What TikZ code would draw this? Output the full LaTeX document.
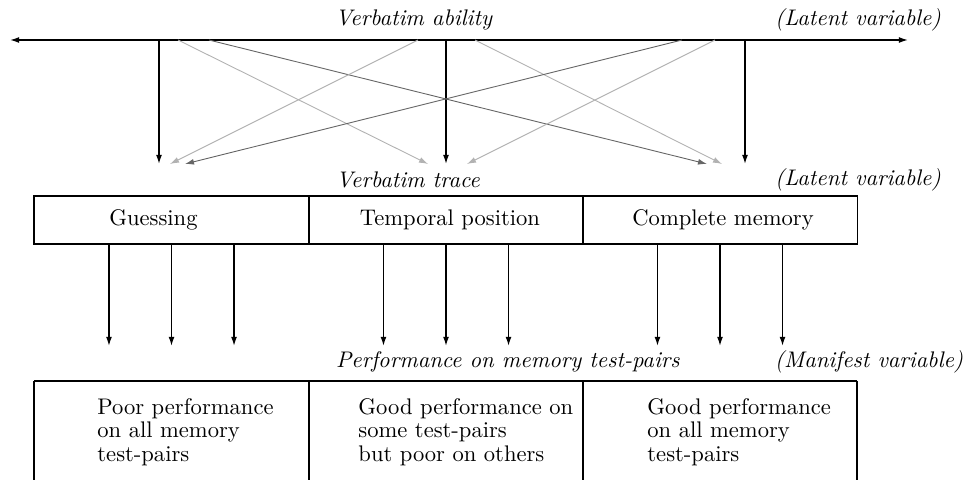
\documentclass[tikz,border=0pt]{standalone}
\usetikzlibrary{arrows.meta}
\tikzset{
	tip/.style={-{Latex[length=4pt,width=2.6pt]}},
	blackarrow/.style={tip, black, semithick},
	lightarrow/.style={tip, black!30, thin},
	darkarrow/.style={tip, black!60, thin},
	cell/.style={draw, thick, minimum width=121.8pt, minimum height=21.3pt, inner sep=0pt},
	outcome/.style={anchor=north west, align=left, inner sep=0pt}
}
\begin{document}
\begin{tikzpicture}[x=0.443pt, y=-0.443pt]
			\useasboundingbox (0,0) rectangle (970,480);
			
			% latent variable: verbatim ability
			\coordinate (abL) at (10,40);
			\coordinate (abR) at (908,40);
			\draw [<->, >={Latex[length=4pt,width=2.6pt]}, semithick] (abL) -- (abR);
			\node (ability) at (414,20) {\textit{Verbatim ability}};
			\node (latentA) at (858,20) {\textit{(Latent variable)}};
			
			\foreach \name/\x in {a1/159, a2/446, a3/745, g1/178, d1/209, g2/418, g3/475, d2/682, g4/715}
				\coordinate (\name) at (\x,40);
			\foreach \name/\x in {t1/159, t2/446, t3/745, l1/170, k1/185, l2/428, l3/467, k3/707, l4/722}
				\coordinate (\name) at (\x,164);
			
			\draw [blackarrow] (a1) -- (t1);
			\draw [blackarrow] (a2) -- (t2);
			\draw [blackarrow] (a3) -- (t3);
			\draw [lightarrow] (g1) -- (l2);
			\draw [darkarrow] (d1) -- (k3);
			\draw [lightarrow] (g2) -- (l1);
			\draw [lightarrow] (g3) -- (l4);
			\draw [darkarrow] (d2) -- (k1);
			\draw [lightarrow] (g4) -- (l3);
			
			% latent variable: verbatim trace
			\node (trace) at (408,180) {\textit{Verbatim trace}};
			\node (latentB) at (858,180) {\textit{(Latent variable)}};
			\node [cell] (guess) at (171.5,220) {Guessing\hspace*{16pt}};
			\node [cell] (temporal) at (446,220) {\hspace*{3.5pt}Temporal position};
			\node [cell] (complete) at (720,220) {\hspace*{2.7pt}Complete memory};
			
			\foreach \b in {guess, temporal, complete}
				\foreach \dx in {-27.7, 0, 27.7}
					\draw [blackarrow] ([xshift=\dx pt]\b.south) -- ++(0,101);
			
			% manifest variable
			\node (perf) at (508,362) {\textit{Performance on memory test-pairs}};
			\node (manifest) at (869,362) {\textit{(Manifest variable)}};
			\draw [thick] (34,381) -- (857,381);
			\foreach \x in {34, 309, 583, 857}
				\draw [thick] (\x,381) -- (\x,480);
			
			\node [outcome] (poor) at (97,398) {Poor performance\\[-1.6pt] on all memory\\[-1.6pt] test-pairs};
			\node [outcome] (some) at (358,398) {Good performance on\\[-1.6pt] some test-pairs\\[-1.6pt] but poor on others};
			\node [outcome] (good) at (647,398) {Good performance\\[-1.6pt] on all memory\\[-1.6pt] test-pairs};
			
		\end{tikzpicture}
\end{document}
